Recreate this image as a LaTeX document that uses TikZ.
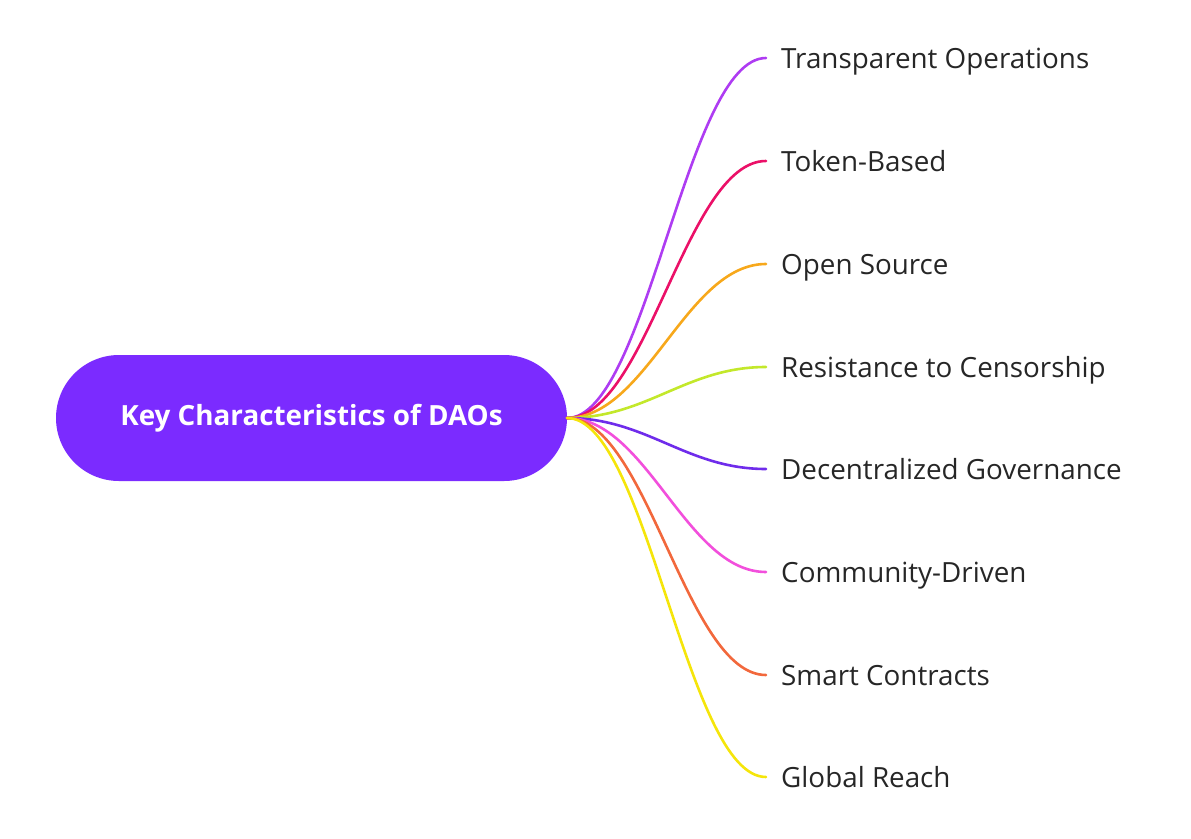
\documentclass[tikz,border=0pt]{standalone}
\usepackage{fontspec}
\setmainfont{Open Sans}
\definecolor{mainc}{HTML}{7B2BFF}
\definecolor{txt}{HTML}{262626}
\definecolor{c1}{HTML}{AE3CF2}
\definecolor{c2}{HTML}{EB1068}
\definecolor{c3}{HTML}{F7A81B}
\definecolor{c4}{HTML}{C3E82B}
\definecolor{c5}{HTML}{6F2CEB}
\definecolor{c6}{HTML}{F24FDC}
\definecolor{c7}{HTML}{F2683C}
\definecolor{c8}{HTML}{F5E50A}
\begin{document}
\begin{tikzpicture}[x=1pt,y=-1pt,
  leaf/.style={anchor=base west,inner sep=0pt,text=txt,font=\fontsize{27.8}{32}\selectfont},
  branch/.style={line width=2.6pt,line cap=round}]
\useasboundingbox (0,0) rectangle (1191,838);
\node[fill=mainc,rounded corners=63pt,minimum width=511pt,minimum height=126pt,inner sep=0pt,
  text=white,font=\bfseries\fontsize{27.8}{32}\selectfont] (root) at (311.5,418) {Key Characteristics of DAOs};
\coordinate (o) at (567,418);
\foreach \i/\y/\t in {1/58/Transparent Operations,2/161/Token-Based,3/264/Open Source,4/367/Resistance to Censorship,5/469/Decentralized Governance,6/572/Community-Driven,7/675/Smart Contracts,8/777/Global Reach}{
  \coordinate (e\i) at (766,\y);
  \node[leaf] (l\i) at (781,\y+10) {\t};
  \draw[branch,c\i] (o) .. controls ([xshift=80pt]o) and ([xshift=-80pt]e\i) .. (e\i);
}
\end{tikzpicture}
\end{document}
